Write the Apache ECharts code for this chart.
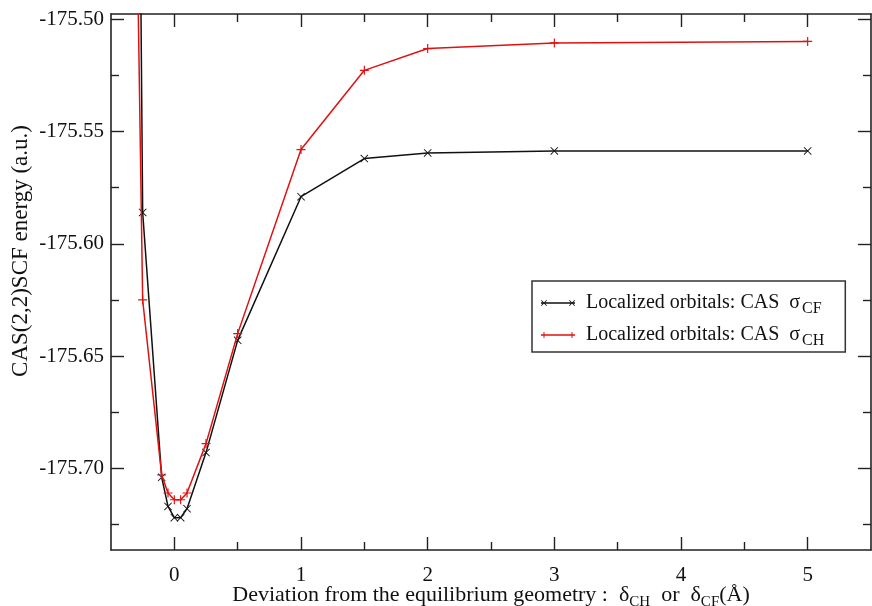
<!DOCTYPE html>
<html>
<head>
<meta charset="utf-8">
<script src="https://cdn.jsdelivr.net/npm/echarts@6/dist/echarts.min.js"></script>
<style>
  html, body { margin: 0; padding: 0; background: #ffffff; }
  #chart { width: 872px; height: 606px; }
</style>
</head>
<body>
<div id="chart"></div>
<script>
// Deviation from the equilibrium geometry (Å)
const deviations = [-0.3, -0.25, -0.1, -0.05, 0, 0.05, 0.1, 0.25, 0.5, 1, 1.5, 2, 3, 5];
// CAS(2,2)SCF energies (a.u.) with localized orbitals
const energySigmaCF = [-175.250, -175.586, -175.704, -175.717, -175.722, -175.722, -175.718,
                       -175.693, -175.643, -175.579, -175.562, -175.5595, -175.5586, -175.5586];
const energySigmaCH = [-175.440, -175.625, -175.703, -175.711, -175.714, -175.714, -175.711,
                       -175.689, -175.640, -175.558, -175.5227, -175.513, -175.5105, -175.5098];

const seriesNames = ['Localized orbitals: CAS σCF', 'Localized orbitals: CAS σCH'];
const seriesSubscripts = ['CF', 'CH'];

const xMajorTicks = [0, 1, 2, 3, 4, 5];
const xMinorTicks = [0.5, 1.5, 2.5, 3.5, 4.5];
const yMajorTicks = [-175.70, -175.65, -175.60, -175.55, -175.50];
const yMinorTicks = [-175.725, -175.675, -175.625, -175.575, -175.525];

const X_MIN = -0.5, X_MAX = 5.5;
const Y_MIN = -175.7364, Y_MAX = -175.4976;

const FONT = 'Liberation Serif';
const INK = '#111111';
const FRAME = '#222222';

// filled "x" cross centred on (cx, cy)
function crossPath(cx, cy, h, t) {
  const p = [
    [cx - h, cy - h + t], [cx - h + t, cy - h], [cx, cy - t], [cx + h - t, cy - h],
    [cx + h, cy - h + t], [cx + t, cy], [cx + h, cy + h - t], [cx + h - t, cy + h],
    [cx, cy + t], [cx - h + t, cy + h], [cx - h, cy + h - t], [cx - t, cy]
  ];
  return 'M' + p.map(q => q[0].toFixed(2) + ',' + q[1].toFixed(2)).join(' L') + ' Z';
}
// filled "+" centred on (cx, cy)
function plusPath(cx, cy, h, t) {
  return `M${cx - t},${cy - h} L${cx + t},${cy - h} L${cx + t},${cy - t} L${cx + h},${cy - t} ` +
         `L${cx + h},${cy + t} L${cx + t},${cy + t} L${cx + t},${cy + h} L${cx - t},${cy + h} ` +
         `L${cx - t},${cy + t} L${cx - h},${cy + t} L${cx - h},${cy - t} L${cx - t},${cy - t} Z`;
}
function barPath(x0, x1, cy, t) {
  return `M${x0},${cy - t} L${x1},${cy - t} L${x1},${cy + t} L${x0},${cy + t} Z`;
}

const markX = 'path://' + crossPath(5, 5, 5, 0.8);
const markPlus = 'path://' + plusPath(5, 5, 5, 0.65);
const legendIconCF = 'path://' + barPath(0, 34, 3, 0.65) + ' ' + crossPath(3, 3, 3, 0.6) + ' ' + crossPath(31, 3, 3, 0.6);
const legendIconCH = 'path://' + barPath(0, 34, 3, 0.65) + ' ' + plusPath(3, 3, 3, 0.5) + ' ' + plusPath(31, 3, 3, 0.5);

const gridBox = { left: 111, right: 1, top: 14, bottom: 56, containLabel: false, outerBoundsMode: 'none' };

function frameAxis(kind, pos, grid, ticks, len, withLine) {
  return {
    type: 'value',
    gridIndex: grid,
    position: pos,
    min: kind === 'x' ? X_MIN : Y_MIN,
    max: kind === 'x' ? X_MAX : Y_MAX,
    axisLine: { show: withLine, onZero: false, lineStyle: { color: FRAME, width: 1.6 } },
    axisTick: { show: true, inside: true, length: len, customValues: ticks,
                lineStyle: { color: FRAME, width: 1.4 } },
    axisLabel: { show: false },
    splitLine: { show: false }
  };
}

const xBottom = frameAxis('x', 'bottom', 0, xMajorTicks, 13, true);
xBottom.axisLabel = {
  show: true, customValues: xMajorTicks, margin: 15,
  fontFamily: FONT, fontSize: 21, color: INK,
  formatter: v => String(v)
};
xBottom.name = '{n|Deviation from the equilibrium geometry :  δ}{s|CH}{n|  or  δ}{s|CF}{n|(Å)}';
xBottom.nameLocation = 'middle';
xBottom.nameGap = 30;
xBottom.nameMoveOverlap = false;
xBottom.nameTextStyle = {
  fontFamily: FONT, color: INK,
  rich: {
    n: { fontFamily: FONT, fontSize: 22, color: INK },
    s: { fontFamily: FONT, fontSize: 15, color: INK, padding: [15, 0, 0, 0] }
  }
};

const yLeft = frameAxis('y', 'left', 0, yMajorTicks, 13, true);
yLeft.axisLabel = {
  show: true, customValues: yMajorTicks, margin: 7,
  fontFamily: FONT, fontSize: 21, color: INK,
  formatter: v => v.toFixed(2)
};
yLeft.name = 'CAS(2,2)SCF energy (a.u.)';
yLeft.nameLocation = 'middle';
yLeft.nameGap = 79;
yLeft.nameMoveOverlap = false;
yLeft.nameTextStyle = { fontFamily: FONT, fontSize: 23, color: INK, padding: [0, 0, 0, 62] };

const option = {
  backgroundColor: '#ffffff',
  animation: false,
  grid: [
    Object.assign({}, gridBox),
    Object.assign({}, gridBox)
  ],
  xAxis: [
    xBottom,
    frameAxis('x', 'top', 0, xMajorTicks, 13, true),
    frameAxis('x', 'bottom', 1, xMinorTicks, 8, false),
    frameAxis('x', 'top', 1, xMinorTicks, 8, false)
  ],
  yAxis: [
    yLeft,
    frameAxis('y', 'right', 0, yMajorTicks, 13, true),
    frameAxis('y', 'left', 1, yMinorTicks, 8, false),
    frameAxis('y', 'right', 1, yMinorTicks, 8, false)
  ],
  legend: {
    orient: 'vertical',
    left: 532, top: 281,
    padding: [12, 21, 3, 9],
    itemGap: 8,
    itemWidth: 34, itemHeight: 6,
    borderColor: '#333333', borderWidth: 1.5, borderRadius: 0,
    backgroundColor: '#ffffff',
    itemStyle: { borderWidth: 0 },
    data: [
      { name: seriesNames[0], icon: legendIconCF },
      { name: seriesNames[1], icon: legendIconCH }
    ],
    formatter: name => '{t|Localized orbitals: CAS  σ}{s|' + seriesSubscripts[seriesNames.indexOf(name)] + '}',
    textStyle: {
      fontFamily: FONT, color: INK,
      rich: {
        t: { fontFamily: FONT, fontSize: 20, color: INK, padding: [0, 0, 0, 6] },
        s: { fontFamily: FONT, fontSize: 16, color: INK, padding: [12, 0, 0, 2] }
      }
    }
  },
  series: [
    {
      name: seriesNames[0],
      type: 'line',
      xAxisIndex: 0, yAxisIndex: 0,
      data: deviations.map((d, i) => [d, energySigmaCF[i]]),
      symbol: markX, symbolSize: 8,
      itemStyle: { color: '#111111', borderWidth: 0 },
      lineStyle: { color: '#111111', width: 1.5 },
      clip: true, z: 2
    },
    {
      name: seriesNames[1],
      type: 'line',
      xAxisIndex: 0, yAxisIndex: 0,
      data: deviations.map((d, i) => [d, energySigmaCH[i]]),
      symbol: markPlus, symbolSize: 9,
      itemStyle: { color: '#e01010', borderWidth: 0 },
      lineStyle: { color: '#e01010', width: 1.5 },
      clip: true, z: 3
    }
  ]
};

const chart = echarts.init(document.getElementById('chart'), null, { renderer: 'canvas' });
chart.setOption(option);
</script>
</body>
</html>
